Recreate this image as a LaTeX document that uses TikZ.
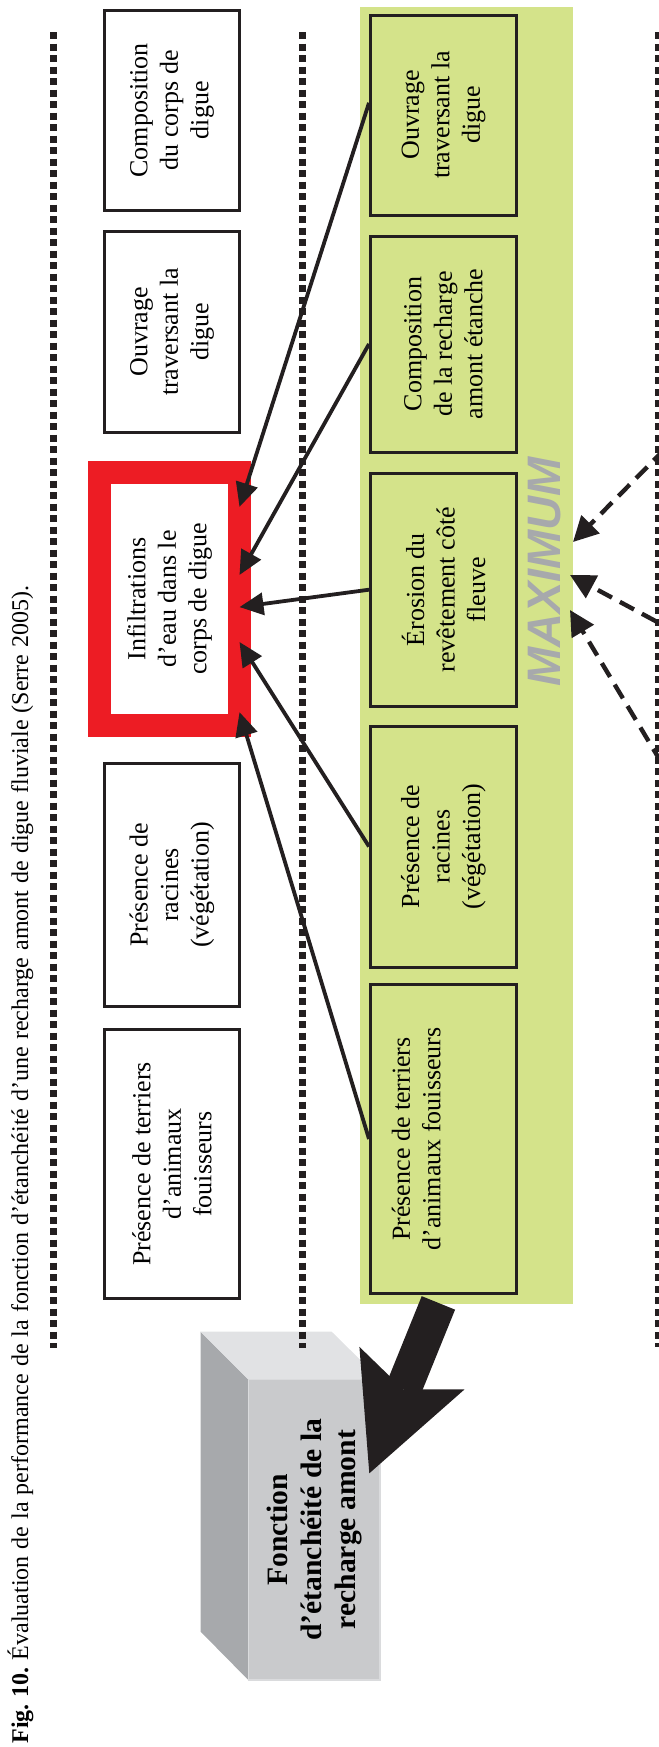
\documentclass[tikz,border=0pt]{standalone}
\usepackage{fontspec}
\setmainfont{Liberation Serif}
\setsansfont{Liberation Sans}
\usetikzlibrary{arrows.meta,calc}

\definecolor{leafgreen}{HTML}{D4E38A}
\definecolor{ink}{HTML}{231F20}
\definecolor{alarmred}{HTML}{ED1C24}
\definecolor{facefront}{HTML}{C9CACC}
\definecolor{faceside}{HTML}{A7A9AC}
\definecolor{facetop}{HTML}{E1E2E4}
\definecolor{faceedge}{HTML}{DADBDD}
\definecolor{maxgray}{HTML}{A7A9AC}

\begin{document}
\frenchspacing
\begin{tikzpicture}[x=0.5pt,y=-0.5pt,
  crit/.style={draw=ink, line width=1.5pt, rotate=90, align=center, inner sep=0pt,
    font=\fontsize{13}{15.25}\selectfont, minimum height=67.5pt},
  whitecrit/.style={crit, fill=white},
  greencrit/.style={crit, fill=leafgreen, minimum height=73pt},
  sepline/.style={ink, line width=3.5pt, dash pattern=on 3.5pt off 2.25pt},
  feed/.style={ink, line width=1.9pt, -{Triangle[length=12pt,width=11pt]}},
  maxfeed/.style={ink, line width=2.2pt, dash pattern=on 8pt off 4.5pt,
    -{Triangle[length=12.5pt,width=12.5pt]}},
  bigfeed/.style={ink, line width=18pt,
    -{Stealth[length=56.75pt,width=56.7pt,inset=11.5pt,line width=0pt]}},
]
\useasboundingbox (0,0) rectangle (659,1747);
\clip (0,0) rectangle (659,1747);

% band of the criteria combined by the maximum
\fill[leafgreen] (360,7) rectangle (573,1304);

% 3D block of the function
\fill[faceside] (200.7,1331.7) -- (248.3,1379.3) -- (248.3,1680) -- (200.7,1631.7) -- cycle;
\fill[facetop] (200.7,1331.7) -- (331.7,1331.7) -- (380,1379.3) -- (248.3,1379.3) -- cycle;
\node[rotate=90, draw=faceedge, line width=0.75pt, fill=facefront, inner sep=0pt, outer sep=0pt,
  minimum width=150.35pt, minimum height=65.85pt, align=center,
  font=\bfseries\fontsize{14.8}{17}\selectfont] (fonction) at (314.15,1529.65)
  {Fonction\\d’étanchéité de la\\recharge amont};

% separators
\draw[sepline] (53.5,32) -- (53.5,1348);
\draw[sepline] (302,32) -- (302,1348);
\draw[sepline] (658.5,32) -- (658.5,1347);

% white criteria column
\node[whitecrit, minimum width=100.25pt] (w1) at (172,110.25) {Composition\\du corps de\\digue};
\node[whitecrit, minimum width=100.5pt] (w2) at (172,332) {Ouvrage\\traversant la\\digue};
\node[crit, fill=white, draw=alarmred, line width=11.5pt, outer sep=0pt,
  minimum width=126.5pt, minimum height=70pt] (infil) at (169.5,599)
  {Infiltrations\\d’eau dans le\\corps de digue};
\node[whitecrit, minimum width=121.5pt] (w4) at (172,885) {Présence de\\racines\\(végétation)};
\node[whitecrit, minimum width=134.5pt] (w5) at (172,1164) {Présence de terriers\\d’animaux\\fouisseurs};

% green criteria column
\node[greencrit, minimum width=100pt] (g1) at (443.5,115) {Ouvrage\\traversant la\\digue};
\node[greencrit, minimum width=108pt] (g2) at (443.5,344) {Composition\\de la recharge\\amont étanche};
\node[greencrit, minimum width=116.35pt] (g3) at (443.5,589.7) {Érosion du\\revêtement côté\\fleuve};
\node[greencrit, minimum width=120.5pt] (g4) at (443.5,846.5) {Présence de\\racines\\(végétation)};
\node[greencrit, minimum width=154.2pt, text depth=27.5pt] (g5) at (443.5,1139) {Présence de terriers\\d’animaux fouisseurs};

\node[rotate=90, anchor=base, inner sep=0pt, text=maxgray,
  font=\sffamily\bfseries\itshape\fontsize{23.5}{28}\selectfont] (maxlabel) at (560,572) {MAXIMUM};

% influences on the infiltration criterion
\draw[feed] ($(g1.north east)!0.44!(g1.north west)$) -- ($(infil.south east)!0.136!(infil.south west)$);
\draw[feed] (g2.north) -- ($(infil.south east)!0.405!(infil.south west)$);
\draw[feed] (g3.north) -- ($(infil.south east)!0.532!(infil.south west)$);
\draw[feed] (g4.north) -- ($(infil.south east)!0.670!(infil.south west)$);
\draw[feed] (g5.north) -- ($(infil.south east)!0.947!(infil.south west)$);

% dashed inputs into the maximum
\coordinate (sA) at (700,413.5);
\coordinate (sB) at (700,645);
\coordinate (sC) at (700,827);
\coordinate (tA) at (573,542);
\coordinate (tB) at (570,575);
\coordinate (tC) at (570,610);
\draw[maxfeed] (sA) -- (tA);
\draw[maxfeed] (sB) -- (tB);
\draw[maxfeed] (sC) -- (tC);

% aggregation into the function
\coordinate (bigtip) at (369.3,1473.3);
\draw[bigfeed] ($(g5.west)+(-5.1,8.2)$) -- (bigtip);

% caption
\node[rotate=90, anchor=base west, inner sep=0pt, font=\fontsize{12}{14}\selectfont] (caption) at (28,1744)
  {\makebox[579pt][s]{\textbf{Fig. 10.} Évaluation de la performance de la fonction d’étanchéité d’une recharge amont de digue fluviale (Serre 2005).}};
\end{tikzpicture}
\end{document}
